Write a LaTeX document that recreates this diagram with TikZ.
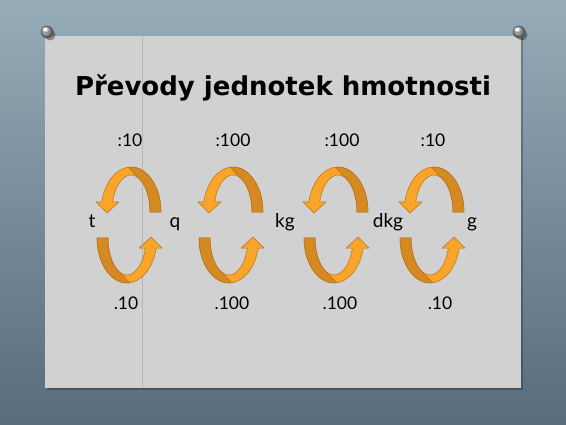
\documentclass[tikz,border=0pt]{standalone}
\usepackage{fontspec}
\setmainfont{Lato}
\newfontfamily\headfont{DejaVu Sans}
\usetikzlibrary{positioning, calc}

\definecolor{wallTop}{RGB}{150,172,184}
\definecolor{wallBottom}{RGB}{88,108,124}
\definecolor{paper}{RGB}{209,209,209}
\definecolor{fold}{RGB}{182,182,182}
\definecolor{arrowLight}{RGB}{248,165,42}
\definecolor{arrowDark}{RGB}{212,137,34}
\definecolor{arrowEdge}{RGB}{186,112,22}

\begin{document}
\begin{tikzpicture}[x=1pt, y=1pt]
        \tikzstyle{unit}=[font=\fontsize{19}{22}\selectfont, inner sep=0pt, anchor=base];
        \tikzstyle{factor}=[font=\fontsize{17.5}{20}\selectfont, inner sep=0pt, anchor=base];
        \tikzstyle{title}=[font=\headfont\bfseries\fontsize{26}{30}\selectfont, inner sep=0pt, anchor=base];
        \tikzstyle{front}=[fill=arrowLight, draw=arrowEdge, line width=.5pt, line join=round];
        \tikzstyle{back}=[fill=arrowDark, draw=arrowEdge, line width=.5pt, line join=round];
        \tikzstyle{pin}=[ball color=gray!60, draw=gray!50!black, line width=.3pt];

        % wall and paper
        \shade[top color=wallTop, bottom color=wallBottom] (0,0) rectangle (566,424);
        \fill[black, opacity=.25] (47,34) rectangle (523,386);
        \fill[paper] (45,36) rectangle (521,388);
        \draw[fold, line width=.6pt] (142,36) -- (142,388);

        % pins
        \foreach \px in {47,519} {
          \fill[black, opacity=.35] (\px+3,389) circle (5.5);
          \shade[pin] (\px,392) circle (6);
          \shade[ball color=white] (\px-1,394) ellipse (3.8 and 3.2);
        }

        \node[title] (heading) at (283,328) {Převody jednotek hmotnosti};

        % curved arrows
        \foreach \cx in {129,231,336,432} {
          \begin{scope}[shift={(\cx,199)}]
            \foreach \r in {0,180} {
              \begin{scope}[rotate=\r]
                \draw[front] (32,13) arc[start angle=0, end angle=167, x radius=30, y radius=45]
                  -- (-33,23.1) -- (-22,12) -- (-10,23.1) -- (-16.3,23.1)
                  arc[start angle=164.2, end angle=0, x radius=19, y radius=37] -- cycle;
                \draw[back] (-0.6,57.8) arc[start angle=95, end angle=0, x radius=30, y radius=45]
                  -- (21,13) arc[start angle=0, end angle=55, x radius=19, y radius=37] -- cycle;
              \end{scope}
            }
          \end{scope}
        }

        % units
        \node[unit] (t) at (92,196) {t};
        \node[unit] (q) at (175,196) {q};
        \node[unit] (kg) at (285,196) {kg};
        \node[unit] (dkg) at (388,196) {dkg};
        \node[unit] (g) at (472,196) {g};

        % factors
        \node[factor] (div1) at (130,277) {:10};
        \node[factor] (div2) at (233,277) {:100};
        \node[factor] (div3) at (342,277) {:100};
        \node[factor] (div4) at (433,277) {:10};
        \node[factor] (mul1) at (126,114) {.10};
        \node[factor] (mul2) at (232,114) {.100};
        \node[factor] (mul3) at (340,114) {.100};
        \node[factor] (mul4) at (440,114) {.10};
\end{tikzpicture}
\end{document}
